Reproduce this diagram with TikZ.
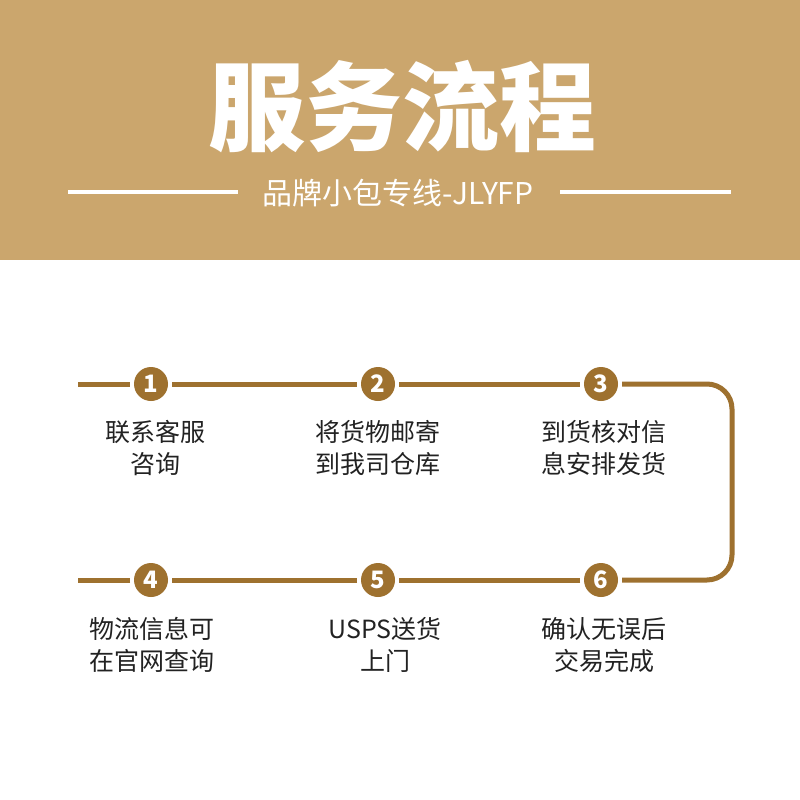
\documentclass[tikz,border=0pt]{standalone}
\usepackage{fontspec}
\newfontfamily\cjk{Noto Sans CJK SC}
\definecolor{band}{HTML}{CBA66D}
\definecolor{gold}{HTML}{9E712F}
\definecolor{ink}{HTML}{222222}
\begin{document}
\begin{tikzpicture}[x=1pt,y=-1pt,
  flow/.style={draw=gold,line width=5pt},
  num/.style={circle,fill=gold,minimum size=34pt,inner sep=0pt,outer sep=4pt,text=white,font=\cjk\bfseries\fontsize{24}{24}\selectfont},
  stepbox/.style={align=center,text=ink,font=\cjk\fontsize{25}{32}\selectfont},
  rule/.style={draw=white,line width=4pt}]
\useasboundingbox (0,0) rectangle (800,800);
\fill[white] (0,0) rectangle (800,800);
\fill[band] (0,0) rectangle (800,260);
\node[text=white,font=\cjk\bfseries\fontsize{97}{97}\selectfont] (title) at (402,107) {服务流程};
\node[text=white,font=\cjk\fontsize{30}{30}\selectfont] (sub) at (398,193) {品牌小包专线-JLYFP};
\coordinate (l1) at (68,192); \coordinate (l2) at (238,192);
\coordinate (r1) at (560,192); \coordinate (r2) at (731,192);
\draw[rule] (l1) -- (l2);
\draw[rule] (r1) -- (r2);
% circles
\node[num] (c1) at (151,384) {1};
\node[num] (c2) at (378,384) {2};
\node[num] (c3) at (601,384) {3};
\node[num] (c4) at (151,580) {4};
\node[num] (c5) at (378,580) {5};
\node[num] (c6) at (601,580) {6};
\coordinate (s) at (78,384);
\coordinate (e) at (78,580);
\coordinate (k1) at (732,384);
\coordinate (k2) at (732,580);
\draw[flow] (s) -- (c1);
\draw[flow] (c1) -- (c2);
\draw[flow] (c2) -- (c3);
\draw[flow,rounded corners=25pt] (c3.east) -- (k1) -- (k2) -- (c6.east);
\draw[flow] (c6) -- (c5);
\draw[flow] (c5) -- (c4);
\draw[flow] (c4) -- (e);
% texts
\node[stepbox] (t1) at (155,448) {联系客服\\咨询};
\node[stepbox] (t2) at (378,448) {将货物邮寄\\到我司仓库};
\node[stepbox] (t3) at (604,448) {到货核对信\\息安排发货};
\node[stepbox] (t4) at (152,645) {物流信息可\\在官网查询};
\node[stepbox] (t5) at (385,645) {USPS送货\\上门};
\node[stepbox] (t6) at (604,645) {确认无误后\\交易完成};
\end{tikzpicture}
\end{document}
